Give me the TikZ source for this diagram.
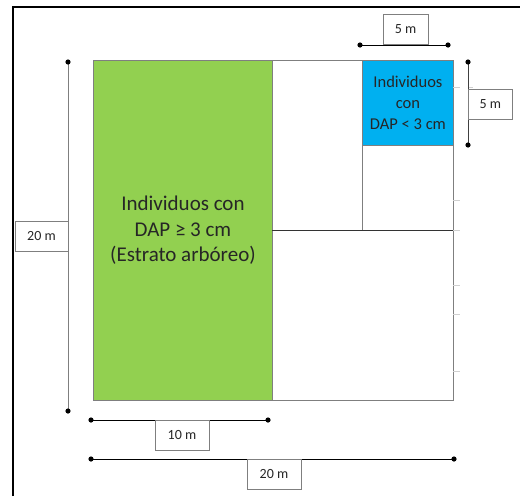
\documentclass[tikz,border=0pt]{standalone}
\usepackage{fontspec}
\setmainfont{Carlito}
\definecolor{plotgreen}{HTML}{92D050}
\definecolor{plotblue}{HTML}{00B0F0}
\definecolor{edgegray}{HTML}{7F7F7F}
\definecolor{tickgray}{HTML}{D0D0D0}
\definecolor{txt}{HTML}{262626}
\begin{document}
\begin{tikzpicture}[x=1pt,y=-1pt,
  region/.style={draw=edgegray, line width=0.9pt, inner sep=0pt, anchor=north west},
  dimbox/.style={draw=edgegray, fill=white, line width=0.9pt, inner sep=0pt, minimum height=30pt, font=\fontsize{14}{16}\selectfont, text=txt},
  dimline/.style={line width=0.9pt},
  tick/.style={draw=tickgray, line width=0.6pt},
  enddot/.style={fill=black}]
\useasboundingbox (0,0) rectangle (520,496);
% frame
\draw[line width=2pt] (12.5,496) -- (12.5,7) -- (520,7);
% plot
\node[region, minimum width=360pt, minimum height=340pt] (plot) at (93,60) {};
\node[region, fill=plotgreen, minimum width=179pt, minimum height=340pt, align=center, text=txt,
  font=\fontsize{21}{25.5}\selectfont] (green) at (93,60) {Individuos con\\DAP ≥ 3 cm\\(Estrato arbóreo)};
\node[region, fill=plotblue, minimum width=91pt, minimum height=85pt, align=center, text=txt,
  font=\fontsize{16.5}{21}\selectfont] (blue) at (362,60) {Individuos\\con\\DAP < 3 cm};
\coordinate (hl) at (272,230);
\coordinate (hr) at (453,230);
\coordinate (vb) at (362,230);
\draw[draw=black!80, line width=0.9pt] (hl) -- (hr);
\draw[draw=edgegray, line width=0.9pt] (blue.south west) -- (vb);
% faint ticks
\foreach \yy in {87,200,230,285,314,371} \draw[tick] (453,\yy) -- (460,\yy);
\foreach \yy in {87,119} \draw[tick] (468,\yy) -- (473,\yy);
% dimension: left 20 m
\coordinate (l1) at (68,62); \coordinate (l2) at (68,411);
\draw[dimline, draw=edgegray] (l1) -- (l2);
\fill[enddot] (l1) circle (2.6) (l2) circle (2.6);
\node[dimbox, minimum width=53pt] (lbl20v) at (41.5,236.5) {20 m};
% top 5 m
\coordinate (t1) at (360,45); \coordinate (t2) at (448,45);
\draw[dimline] (t1) -- (t2);
\fill[enddot] (t1) circle (2.6) (t2) circle (2.6);
\node[dimbox, minimum width=45pt, anchor=south] (lbl5h) at (405.5,45) {5 m};
% right 5 m
\coordinate (r1) at (468,62); \coordinate (r2) at (468,145);
\draw[dimline, draw=black!75] (r1) -- (r2);
\fill[enddot] (r1) circle (2.6) (r2) circle (2.6);
\node[dimbox, minimum width=44pt, anchor=west] (lbl5v) at (468,104) {5 m};
% bottom 10 m
\coordinate (b1) at (91,420); \coordinate (b2) at (268,420);
\draw[dimline] (b1) -- (b2);
\fill[enddot] (b1) circle (2.6) (b2) circle (2.6);
\node[dimbox, minimum width=54pt, anchor=north] (lbl10) at (182,420) {10 m};
% bottom 20 m
\coordinate (c1) at (91,459); \coordinate (c2) at (454,459);
\draw[dimline] (c1) -- (c2);
\fill[enddot] (c1) circle (2.6) (c2) circle (2.6);
\node[dimbox, minimum width=54pt, anchor=north] (lbl20h) at (274,459) {20 m};
\end{tikzpicture}
\end{document}
